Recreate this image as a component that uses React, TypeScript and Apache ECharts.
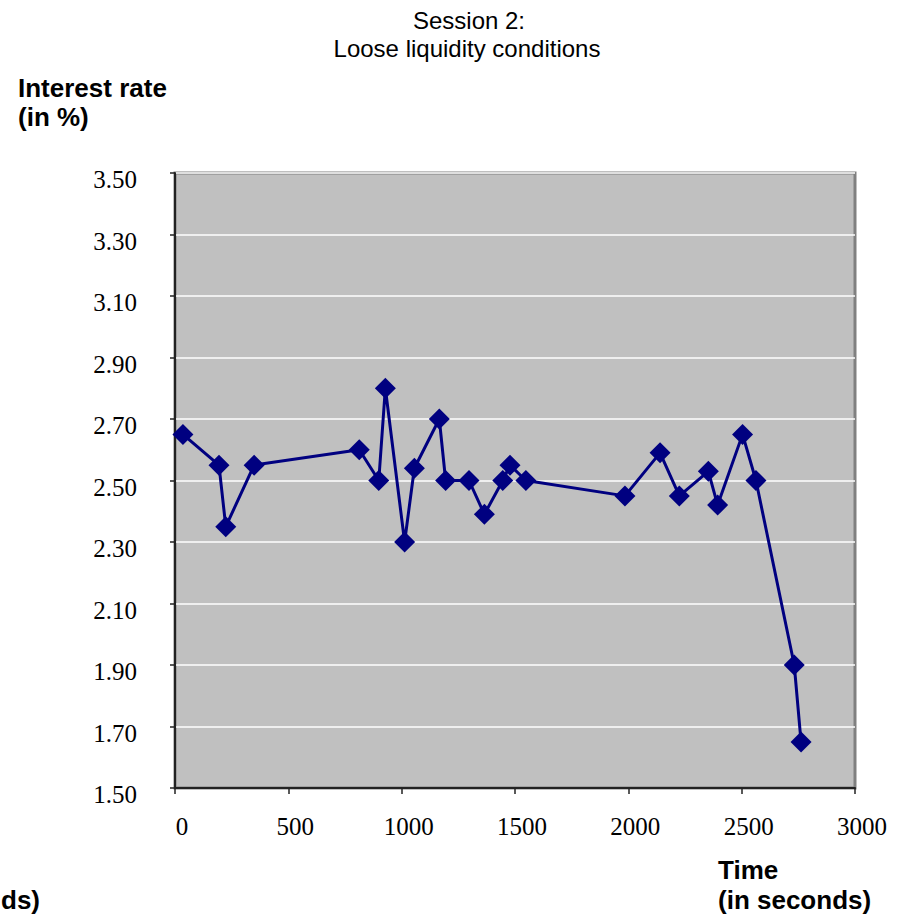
import React, { useEffect, useRef } from "react";
import * as echarts from "echarts";

const titleLines = ["Session 2:", "Loose liquidity conditions"];
const yAxisTitle = ["Interest rate", "(in %)"];
const xAxisTitle = ["Time", "(in seconds)"];
const neighbourAxisTitleTail = "ds)";

const timeSeconds = [35, 194, 224, 349, 813, 899, 928, 1013, 1056, 1166, 1194, 1297, 1365, 1446, 1478, 1548, 1985, 2140, 2225, 2353, 2394, 2504, 2563, 2732, 2762];
const interestRate = [2.65, 2.55, 2.35, 2.55, 2.6, 2.5, 2.8, 2.3, 2.54, 2.7, 2.5, 2.5, 2.39, 2.5, 2.55, 2.5, 2.45, 2.59, 2.45, 2.53, 2.42, 2.65, 2.5, 1.9, 1.65];

const SANS = "'Liberation Sans', Arial, sans-serif";
const SERIF = "'Liberation Serif', 'Times New Roman', serif";

export default function App() {
  const ref = useRef<HTMLDivElement>(null);
  useEffect(() => {
    if (!ref.current) return;
    const chart = echarts.init(ref.current, undefined, { renderer: "svg" });
    const data = timeSeconds.map((t, i) => [t, interestRate[i]]);
    const txt = (text: string, x: number, y: number, font: string, align: string, lh?: number) => ({
      type: "text",
      x,
      y,
      style: { text, font, fill: "#000", align, verticalAlign: "middle", lineHeight: lh },
    });
    chart.setOption({
      animation: false,
      grid: {
        left: 175,
        top: 173,
        width: 680,
        height: 615,
        show: true,
        backgroundColor: "#C0C0C0",
        borderColor: "#808080",
        borderWidth: 3,
      },
      xAxis: {
        type: "value",
        min: 0,
        max: 3000,
        interval: 500,
        axisLine: { show: true, onZero: false, lineStyle: { color: "#222", width: 2 } },
        axisTick: { show: true, inside: false, length: 6, lineStyle: { color: "#222", width: 1.5 } },
        splitLine: { show: false },
        axisLabel: {
          color: "#000",
          fontFamily: SERIF,
          fontSize: 25,
          margin: 26,
          padding: [0, 0, 0, 14],
          formatter: (v: number) => String(v),
        },
      },
      yAxis: {
        type: "value",
        min: 1.5,
        max: 3.5,
        interval: 0.2,
        axisLine: { show: true, onZero: false, lineStyle: { color: "#222", width: 2 } },
        axisTick: { show: true, inside: false, length: 5, lineStyle: { color: "#222", width: 1.5 } },
        splitLine: { show: true, lineStyle: { color: "#FFFFFF", width: 1.5 } },
        axisLabel: {
          color: "#000",
          fontFamily: SERIF,
          fontSize: 25,
          margin: 38,
          verticalAlign: "top",
          lineHeight: 13,
          formatter: (v: number) => v.toFixed(2),
        },
      },
      series: [
        {
          type: "line",
          data,
          symbol: "diamond",
          symbolSize: 21,
          lineStyle: { color: "#000080", width: 3 },
          itemStyle: { color: "#000080" },
        },
      ],
      graphic: [
        txt(titleLines[0], 469, 20.5, `24px ${SANS}`, "center", 24),
        txt(titleLines[1], 467, 48.5, `24px ${SANS}`, "center", 24),
        txt(yAxisTitle[0], 18, 88, `bold 26px ${SANS}`, "left", 28),
        txt(yAxisTitle[1], 18, 117, `bold 26px ${SANS}`, "left", 28),
        txt(xAxisTitle[0], 718, 869.5, `bold 26px ${SANS}`, "left", 29),
        txt(xAxisTitle[1], 718, 899.5, `bold 26px ${SANS}`, "left", 29),
        txt(neighbourAxisTitleTail, 40, 899.5, `bold 26px ${SANS}`, "right", 29),
      ],
    });
    return () => chart.dispose();
  }, []);
  return (
    <div
      ref={ref}
      style={{ position: "absolute", left: 0, top: 0, width: 898, height: 915 }}
    />
  );
}
